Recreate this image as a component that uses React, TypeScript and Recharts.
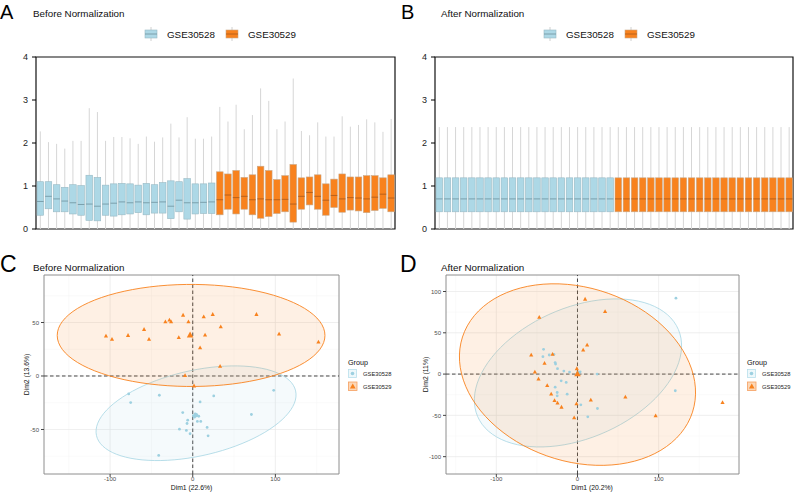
import React from 'react';
import {
  ComposedChart, Bar, XAxis, YAxis, ReferenceArea, ScatterChart, Scatter,
  CartesianGrid, ReferenceLine,
} from 'recharts';

const FONT = "'Liberation Sans', Arial, Helvetica, sans-serif";
const BLUE = '#add8e6';
const BLUE_PT = '#9dd0e0';
const ORANGE = '#f8821e';

// ---- expression distributions per array, before normalization ----
const q1Before28 = [0.32, 0.47, 0.40, 0.40, 0.35, 0.32, 0.20, 0.19, 0.32, 0.30, 0.33, 0.35, 0.38, 0.33, 0.37, 0.37, 0.24, 0.40, 0.23, 0.35, 0.36, 0.36];
const medBefore28 = [0.64, 0.76, 0.70, 0.65, 0.61, 0.57, 0.58, 0.53, 0.58, 0.60, 0.63, 0.61, 0.63, 0.61, 0.62, 0.63, 0.53, 0.67, 0.61, 0.61, 0.62, 0.63];
const q3Before28 = [1.10, 1.10, 1.03, 0.97, 1.03, 1.01, 1.25, 1.20, 1.02, 1.05, 1.06, 1.05, 1.02, 1.06, 1.03, 1.08, 1.12, 1.10, 1.17, 1.05, 1.05, 1.07];
const maxBefore28 = [2.27, 2.02, 1.98, 1.87, 2.05, 2.05, 2.81, 2.72, 2.05, 2.14, 2.14, 2.11, 1.98, 2.15, 2.03, 2.13, 2.45, 2.13, 2.60, 2.10, 2.10, 2.15];

const q1Before29 = [0.33, 0.46, 0.35, 0.46, 0.33, 0.25, 0.29, 0.36, 0.40, 0.16, 0.46, 0.56, 0.46, 0.32, 0.50, 0.39, 0.44, 0.42, 0.38, 0.43, 0.48, 0.40];
const medBefore29 = [0.68, 0.79, 0.73, 0.76, 0.68, 0.70, 0.68, 0.68, 0.69, 0.58, 0.76, 0.85, 0.76, 0.67, 0.78, 0.70, 0.73, 0.72, 0.70, 0.74, 0.81, 0.72];
const q3Before29 = [1.33, 1.28, 1.36, 1.20, 1.26, 1.46, 1.36, 1.15, 1.24, 1.50, 1.19, 1.21, 1.26, 1.05, 1.16, 1.28, 1.21, 1.21, 1.24, 1.24, 1.19, 1.26];
const maxBefore29 = [2.84, 2.50, 2.89, 2.32, 2.65, 3.27, 2.98, 2.32, 2.50, 3.50, 2.28, 2.18, 2.48, 2.15, 2.15, 2.62, 2.38, 2.42, 2.55, 2.48, 2.26, 2.56];

// after quantile normalization every array has the same distribution
const normQ1 = 0.4;
const normMed = 0.7;
const normQ3 = 1.19;
const normMax = 2.37;
const arrays28 = 22;
const arrays29 = 22;

// ---- PCA coordinates ----
const pcaBefore28 = [
  { x: -77.5, y: -16.8 }, { x: -75.1, y: -24.8 }, { x: -40.4, y: -18 }, { x: -41.2, y: -74.2 },
  { x: -12.1, y: -34.2 }, { x: -16.1, y: -49.7 }, { x: -6.1, y: -41.3 }, { x: -6.9, y: -44.4 },
  { x: -7.7, y: -50.9 }, { x: -3.2, y: -54 }, { x: 0.8, y: -37 }, { x: 3, y: -35.5 },
  { x: 2, y: -38.5 }, { x: 7.3, y: -37.6 }, { x: 5.6, y: -42.5 }, { x: 9.7, y: -42.5 },
  { x: 8.9, y: -24.2 }, { x: 25.4, y: -18.6 }, { x: 17.4, y: -48.1 }, { x: 18.6, y: -55.9 },
  { x: 71, y: -36 }, { x: 98, y: -13.4 },
];
const pcaBefore29 = [
  { x: -105, y: 37.3 }, { x: -97.7, y: 34.2 }, { x: -78.3, y: 37.9 }, { x: -58.9, y: 43.5 },
  { x: -52.9, y: 34.2 }, { x: -33.1, y: 50.6 }, { x: -28.2, y: 52.2 }, { x: -26.2, y: 50.6 },
  { x: -11.7, y: 56.8 }, { x: -5.2, y: 50.6 }, { x: -16.9, y: 36 }, { x: 13.3, y: 55.3 },
  { x: 24.2, y: 57.5 }, { x: 33.9, y: 46 }, { x: 14.9, y: 38.2 }, { x: 8.9, y: 26.4 },
  { x: 77.1, y: 57.5 }, { x: 104.5, y: 39.1 }, { x: 152.1, y: 31.7 }, { x: 33.1, y: 9 },
  { x: -9.3, y: 0.3 }, { x: 1.6, y: -9.3 },
];
const pcaAfter28 = [
  { x: 121.3, y: 91.9 }, { x: -41.8, y: 30 }, { x: -42.6, y: 21.1 }, { x: -34.8, y: 23.1 },
  { x: -29.1, y: 23.9 }, { x: -27, y: 12.1 }, { x: -27.5, y: 14 }, { x: -24.6, y: 6.5 },
  { x: -16.8, y: 3.6 }, { x: -9.8, y: 2.4 }, { x: 3.3, y: 2.8 }, { x: 24.2, y: 0 },
  { x: -20.1, y: -8.1 }, { x: -13.9, y: -10.1 }, { x: -27.5, y: -15.8 }, { x: -25, y: -22.3 },
  { x: -25, y: -26.3 }, { x: -12.7, y: -24.3 }, { x: 4.1, y: -37.2 }, { x: 12.7, y: -51.8 },
  { x: 24.6, y: -41.7 }, { x: 120.5, y: -20.2 },
];
const pcaAfter29 = [
  { x: 9.4, y: 90.7 }, { x: 34, y: 75.7 }, { x: -47.1, y: 68.8 }, { x: -57, y: 23.1 },
  { x: -30.7, y: 23.9 }, { x: -40.6, y: 13 }, { x: -52.5, y: 2.4 }, { x: -48, y: -6.1 },
  { x: -37.3, y: -13.8 }, { x: -32.4, y: -24.3 }, { x: -28.3, y: -32 }, { x: -24.6, y: -35.2 },
  { x: -19.7, y: -40.1 }, { x: -1.2, y: -36 }, { x: -4.1, y: -53 }, { x: -0.8, y: 6.5 },
  { x: 7, y: 29.1 }, { x: 11.9, y: 35.2 }, { x: 16.4, y: -31.6 }, { x: 59, y: -27.9 },
  { x: 96.3, y: -50.6 }, { x: 178.7, y: -34.4 },
];
const centerBefore28 = [{ x: 4, y: -36.6 }];
const centerBefore29 = [{ x: -3.2, y: 38.2 }];
const centerAfter28 = [{ x: 1, y: 1.5 }];
const centerAfter29 = [{ x: 0, y: 0 }];

// concentration ellipses: centre plus two conjugate semi-axis vectors (data units)
type Ellipse = { cx: number; cy: number; ux: number; uy: number; vx: number; vy: number };
const ellBefore28: Ellipse = { cx: 4, cy: -34.8, ux: 120.5, uy: 20.9, vx: 11.35, vy: -39 };
const ellBefore29: Ellipse = { cx: -2, cy: 37.9, ux: 162, uy: 0, vx: 0, vy: 47.7 };
const ellAfter28: Ellipse = { cx: 0.6, cy: 1.4, ux: 123.7, uy: 52.6, vx: 31.6, vy: -72.6 };
const ellAfter29: Ellipse = { cx: 0, cy: -0.6, ux: 141.7, uy: -45.5, vx: -32.9, vy: -100.1 };

const outline = (e: Ellipse) => {
  const pts: { x: number; y: number }[] = [];
  for (let deg = 0; deg <= 360; deg += 4) {
    const t = (deg * Math.PI) / 180;
    pts.push({
      x: e.cx + e.ux * Math.cos(t) + e.vx * Math.sin(t),
      y: e.cy + e.uy * Math.cos(t) + e.vy * Math.sin(t),
    });
  }
  return pts;
};

type BoxRow = { id: string; group: string; q1: number; med: number; q3: number; hi: number };

const beforeRows: BoxRow[] = [
  ...q1Before28.map((q1, i) => ({ id: `GSE30528_${i + 1}`, group: 'GSE30528', q1, med: medBefore28[i], q3: q3Before28[i], hi: maxBefore28[i] })),
  ...q1Before29.map((q1, i) => ({ id: `GSE30529_${i + 1}`, group: 'GSE30529', q1, med: medBefore29[i], q3: q3Before29[i], hi: maxBefore29[i] })),
];
const afterRows: BoxRow[] = [
  ...Array.from({ length: arrays28 }, (_, i) => ({ id: `GSE30528_${i + 1}`, group: 'GSE30528', q1: normQ1, med: normMed, q3: normQ3, hi: normMax })),
  ...Array.from({ length: arrays29 }, (_, i) => ({ id: `GSE30529_${i + 1}`, group: 'GSE30529', q1: normQ1, med: normMed, q3: normQ3, hi: normMax })),
];

// bar runs 0..hi, so the rest of the box is placed along the same pixel span
const BoxShape = (props: any) => {
  const { x, y, width, height, payload } = props;
  if (!payload) return null;
  const toY = (v: number) => y + height - (v / payload.hi) * height;
  const cx = x + width / 2;
  const blue = payload.group === 'GSE30528';
  return (
    <g>
      <line x1={cx} x2={cx} y1={toY(payload.hi)} y2={toY(0)} stroke="#d6d6d6" strokeWidth={1} />
      <rect
        x={x} y={toY(payload.q3)} width={width} height={toY(payload.q1) - toY(payload.q3)}
        fill={blue ? BLUE : ORANGE} stroke={blue ? '#98b9c4' : '#c9a888'} strokeWidth={0.6}
      />
      <line x1={x} x2={x + width} y1={toY(payload.med)} y2={toY(payload.med)} stroke={blue ? '#6f929d' : '#a8581a'} strokeWidth={0.8} />
    </g>
  );
};

const BoxPanel = ({ rows, left, width, yAxisWidth, right }: { rows: BoxRow[]; left: number; width: number; yAxisWidth: number; right: number }) => (
  <div style={{ position: 'absolute', left, top: 0 }}>
    <ComposedChart width={width} height={240} data={rows} margin={{ top: 57, right, bottom: 11, left: 0 }}>
      <XAxis dataKey="id" hide />
      <YAxis
        domain={[0, 4]} ticks={[0, 1, 2, 3, 4]} width={yAxisWidth} axisLine={false}
        tickSize={4} tickMargin={4} tickLine={{ stroke: '#000' }}
        tick={{ fontSize: 9, fill: '#222', fontFamily: FONT }}
      />
      <Bar dataKey="hi" barSize={6.6} shape={<BoxShape />} isAnimationActive={false} />
      <ReferenceArea y1={0} y2={4} fill="none" stroke="#111" strokeWidth={1.2} />
    </ComposedChart>
  </div>
);

const Dot = (props: any) => <circle cx={props.cx} cy={props.cy} r={1.4} fill={BLUE_PT} />;
const BigDot = (props: any) => <circle cx={props.cx} cy={props.cy} r={2.2} fill={BLUE_PT} />;
const Tri = (s: number) => (props: any) => {
  const { cx, cy } = props;
  return <path d={`M${cx},${cy - s * 0.62} L${cx + s * 0.55},${cy + s * 0.38} L${cx - s * 0.55},${cy + s * 0.38} Z`} fill={ORANGE} />;
};
const SmallTri = Tri(3.8);
const BigTri = Tri(6);
const NoMark = () => <g />;

type PcaProps = {
  left: number; width: number; right: number; yAxisWidth: number;
  xDomain: [number, number]; yDomain: [number, number];
  xTicks: number[]; yTicks: number[]; xMinor: number[]; yMinor: number[];
  pts28: { x: number; y: number }[]; pts29: { x: number; y: number }[];
  cen28: { x: number; y: number }[]; cen29: { x: number; y: number }[];
  ell28: Ellipse; ell29: Ellipse;
};

const PcaPanel = (p: PcaProps) => (
  <div style={{ position: 'absolute', left: p.left, top: 250 }}>
    <ScatterChart width={p.width} height={242} margin={{ top: 25, right: p.right, bottom: 0, left: 0 }}>
      <CartesianGrid verticalValues={p.xMinor} horizontalValues={p.yMinor} stroke="#f4f4f4" strokeWidth={0.5} />
      <CartesianGrid stroke="#e8e8e8" strokeWidth={0.7} />
      <XAxis
        type="number" dataKey="x" domain={p.xDomain} ticks={p.xTicks} allowDataOverflow height={18}
        axisLine={false} tickSize={3} tickMargin={0} tickLine={{ stroke: '#444' }}
        tick={{ fontSize: 6, fill: '#4d4d4d', fontFamily: FONT }}
      />
      <YAxis
        type="number" dataKey="y" domain={p.yDomain} ticks={p.yTicks} allowDataOverflow width={p.yAxisWidth}
        axisLine={false} tickSize={3} tickMargin={2} tickLine={{ stroke: '#444' }}
        tick={{ fontSize: 6, fill: '#4d4d4d', fontFamily: FONT }}
      />
      <Scatter data={outline(p.ell28)} shape={<NoMark />} line={{ stroke: '#a6d5e3', strokeWidth: 0.8, fill: BLUE, fillOpacity: 0.12 }} isAnimationActive={false} />
      <Scatter data={outline(p.ell29)} shape={<NoMark />} line={{ stroke: ORANGE, strokeWidth: 0.9, fill: ORANGE, fillOpacity: 0.12 }} isAnimationActive={false} />
      <ReferenceLine x={0} stroke="#333" strokeDasharray="3.5 2.5" strokeWidth={0.9} />
      <ReferenceLine y={0} stroke="#333" strokeDasharray="3.5 2.5" strokeWidth={0.9} />
      <Scatter data={p.pts28} shape={Dot} isAnimationActive={false} />
      <Scatter data={p.pts29} shape={SmallTri} isAnimationActive={false} />
      <Scatter data={p.cen28} shape={BigDot} isAnimationActive={false} />
      <Scatter data={p.cen29} shape={BigTri} isAnimationActive={false} />
      <ReferenceArea x1={p.xDomain[0]} x2={p.xDomain[1]} y1={p.yDomain[0]} y2={p.yDomain[1]} fill="none" stroke="#8a8a8a" strokeWidth={0.9} />
    </ScatterChart>
  </div>
);

const BoxKey = ({ x, fill, stroke, med }: { x: number; fill: string; stroke: string; med: string }) => (
  <g>
    <line x1={x + 6} x2={x + 6} y1={27} y2={41} stroke="#d0d0d0" />
    <rect x={x} y={30} width={12} height={8} fill={fill} stroke={stroke} strokeWidth={0.6} />
    <line x1={x} x2={x + 12} y1={34} y2={34} stroke={med} strokeWidth={0.8} />
  </g>
);

const GroupLegend = ({ x }: { x: number }) => (
  <g fontFamily={FONT}>
    <text x={x} y={365} fontSize={7.2} fill="#111">Group</text>
    <rect x={x + 0.5} y={369.5} width={8} height={8} fill="#eef8fb" stroke="#b8dfeb" strokeWidth={0.8} />
    <circle cx={x + 4.5} cy={373.5} r={1.8} fill={BLUE_PT} />
    <text x={x + 15} y={375.8} fontSize={5.8} fill="#222">GSE30528</text>
    <rect x={x + 0.5} y={382} width={8.5} height={8.5} fill="#fcd8b8" stroke="#f6a060" strokeWidth={0.8} />
    <path d={`M${x + 4.75},${383.6} L${x + 7.6},${388.6} L${x + 1.9},${388.6} Z`} fill={ORANGE} />
    <text x={x + 15} y={388.5} fontSize={5.8} fill="#222">GSE30529</text>
  </g>
);

export default function App() {
  return (
    <div style={{ position: 'absolute', left: 0, top: 0, width: 794, height: 492, background: '#fff', overflow: 'hidden' }}>
      <BoxPanel rows={beforeRows} left={0} width={400} yAxisWidth={36} right={5} />
      <BoxPanel rows={afterRows} left={400} width={394} yAxisWidth={35} right={1} />
      <PcaPanel
        left={0} width={400} right={61} yAxisWidth={44}
        xDomain={[-180, 177]} yDomain={[-91.6, 94.4]}
        xTicks={[-100, 0, 100]} yTicks={[-50, 0, 50]}
        xMinor={[-150, -50, 50, 150]} yMinor={[-75, -25, 25, 75]}
        pts28={pcaBefore28} pts29={pcaBefore29} cen28={centerBefore28} cen29={centerBefore29}
        ell28={ellBefore28} ell29={ellBefore29}
      />
      <PcaPanel
        left={400} width={394} right={55} yAxisWidth={46}
        xDomain={[-162, 199]} yDomain={[-121, 120]}
        xTicks={[-100, 0, 100]} yTicks={[-100, -50, 0, 50, 100]}
        xMinor={[-150, -50, 50, 150]} yMinor={[-75, -25, 25, 75]}
        pts28={pcaAfter28} pts29={pcaAfter29} cen28={centerAfter28} cen29={centerAfter29}
        ell28={ellAfter28} ell29={ellAfter29}
      />
      <svg width={794} height={492} style={{ position: 'absolute', left: 0, top: 0, pointerEvents: 'none' }} fontFamily={FONT}>
        <text x={0} y={19} fontSize={20} fill="#000">A</text>
        <text x={401} y={19} fontSize={20} fill="#000">B</text>
        <text x={0} y={272} fontSize={23} fill="#000">C</text>
        <text x={400} y={272} fontSize={23} fill="#000">D</text>

        <text x={33} y={17} fontSize={9.8} fill="#111">Before Normalization</text>
        <text x={441} y={17} fontSize={9.8} fill="#111">After Normalization</text>
        <text x={33} y={270.5} fontSize={9.8} fill="#111">Before Normalization</text>
        <text x={441} y={270.5} fontSize={9.8} fill="#111">After Normalization</text>

        <BoxKey x={145} fill={BLUE} stroke="#98b9c4" med="#6f929d" />
        <text x={167} y={37.5} fontSize={9.8} fill="#111">GSE30528</text>
        <BoxKey x={226} fill={ORANGE} stroke="#c9a888" med="#a8581a" />
        <text x={248} y={37.5} fontSize={9.8} fill="#111">GSE30529</text>
        <BoxKey x={544} fill={BLUE} stroke="#98b9c4" med="#6f929d" />
        <text x={566} y={37.5} fontSize={9.8} fill="#111">GSE30528</text>
        <BoxKey x={625} fill={ORANGE} stroke="#c9a888" med="#a8581a" />
        <text x={647} y={37.5} fontSize={9.8} fill="#111">GSE30529</text>

        <text x={191.5} y={490} fontSize={6.8} fill="#111" textAnchor="middle">Dim1 (22.6%)</text>
        <text x={592} y={490} fontSize={6.8} fill="#111" textAnchor="middle">Dim1 (20.2%)</text>
        <text transform="translate(28.5,374.5) rotate(-90)" fontSize={6.8} fill="#111" textAnchor="middle">Dim2 (13.6%)</text>
        <text transform="translate(428,374.5) rotate(-90)" fontSize={6.8} fill="#111" textAnchor="middle">Dim2 (11%)</text>

        <GroupLegend x={348} />
        <GroupLegend x={747} />
      </svg>
    </div>
  );
}
